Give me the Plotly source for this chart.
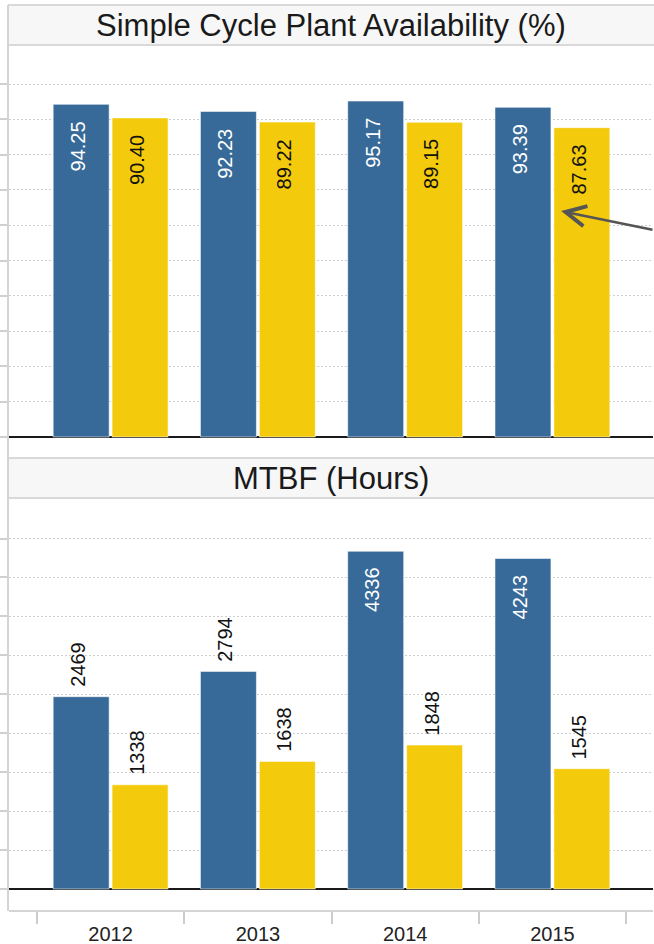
import plotly.graph_objects as go

years = ["2012", "2013", "2014", "2015"]
avail_plant = [94.25, 92.23, 95.17, 93.39]
avail_other = [90.40, 89.22, 89.15, 87.63]
mtbf_plant = [2469, 2794, 4336, 4243]
mtbf_other = [1338, 1638, 1848, 1545]

panel_titles = ["Simple Cycle Plant Availability (%)", "MTBF (Hours)"]

BLUE = "#376a98"
YELLOW = "#f3ca0c"
FONT = "Liberation Sans, Arial, sans-serif"

W, H = 654, 944
L, R, T, B = 9, 1, 45, 34
plot_h = H - T - B  # 865

def py(pix):  # pixel y -> paper y
    return (H - B - pix) / plot_h

x_idx = list(range(len(years)))
OFF, BW = 0.2, 0.38

fig = go.Figure()

panels = [
    (avail_plant, avail_other, "x", "y", lambda v: f"{v:.2f}", [-5.67, 111.05], list(range(0, 101, 10))),
    (mtbf_plant, mtbf_other, "x2", "y2", lambda v: f"{v:d}", [-269.6, 5020], list(range(0, 4501, 500))),
]

annotations = []
for pi, (s1, s2, xa, ya, fmt, yr, tv) in enumerate(panels):
    for vals, col, off, txtcol_in in [(s1, BLUE, -OFF, "white"), (s2, YELLOW, OFF, "#111111")]:
        xs = [i + off for i in x_idx]
        fig.add_trace(go.Bar(
            x=xs, y=vals, width=BW, marker=dict(color=col, line=dict(color="rgba(255,255,255,0.55)", width=1)),
            xaxis=xa, yaxis=ya, showlegend=False, hoverinfo="skip"))
        for xv, v in zip(xs, vals):
            inside = v / yr[1] > 0.7
            if inside:
                shift = -42 if pi == 0 else -38
                tc = txtcol_in
            else:
                shift = 32
                tc = "#111111"
            annotations.append(dict(
                x=xv, y=v, xref=xa, yref=ya, text=fmt(v), showarrow=False,
                textangle=-90, xanchor="center", yanchor="middle", yshift=shift, xshift=-3,
                font=dict(family=FONT, size=20, color=tc)))

# strip titles
strips = [(5, 45), (458, 498)]
shapes = []
for (top, bot), title in zip(strips, panel_titles):
    shapes.append(dict(type="rect", xref="paper", yref="paper", x0=-1 / 644, x1=1 + 1 / 644,
                       y0=py(bot), y1=py(top), fillcolor="#f7f7f7", line=dict(width=0), layer="below"))
    for yy in (top, bot):
        shapes.append(dict(type="line", xref="paper", yref="paper", x0=-1 / 644, x1=1 + 1 / 644,
                           y0=py(yy), y1=py(yy), line=dict(color="#d9d9d9", width=2)))
    annotations.append(dict(x=0.5, y=py((top + bot) / 2), xref="paper", yref="paper", text=title,
                            showarrow=False, xanchor="center", yanchor="middle",
                            font=dict(family=FONT, size=31, color="#1a1a1a")))

# left frame line
shapes.append(dict(type="line", xref="paper", yref="paper", x0=-1 / 644, x1=-1 / 644,
                   y0=py(911), y1=py(5), line=dict(color="#d4d4d4", width=2)))

# arrow annotation
annotations.append(dict(x=3.059, y=64.0, xref="x", yref="y", ax=100, ay=19, text="",
                        showarrow=True, arrowhead=5, arrowsize=1.6, arrowwidth=2.5, arrowcolor="#555555"))

xr = [-0.690, 3.683]
yaxis_common = dict(showticklabels=False, ticks="outside", ticklen=8, tickcolor="#d0d0d0", tickwidth=1.5,
                    showgrid=True, gridcolor="#cfcfcf", griddash="2px,2px", gridwidth=1, automargin=False,
                    zeroline=True, zerolinecolor="#1a1a1a", zerolinewidth=2, showline=False, tickmode="array")

fig.update_layout(
    width=W, height=H, margin=dict(l=L, r=R, t=T, b=B, autoexpand=False),
    paper_bgcolor="white", plot_bgcolor="white", barmode="overlay",
    font=dict(family=FONT),
    xaxis=dict(range=xr, domain=[0, 1], anchor="y", showticklabels=False, ticks="", showgrid=False,
               zeroline=False, showline=False, automargin=False),
    yaxis=dict(range=panels[0][5], domain=[py(457), 1], anchor="x", tickvals=panels[0][6], **yaxis_common),
    xaxis2=dict(range=xr, domain=[0, 1], anchor="y2", tickmode="array", tickvals=x_idx, ticktext=years,
                ticks="outside", ticklen=5, tickcolor="rgba(0,0,0,0)", showgrid=False, zeroline=False,
                showline=True, linecolor="#d4d4d4", linewidth=2, automargin=False,
                tickfont=dict(family=FONT, size=20, color="#222222"),
                minor=dict(tickmode="array", tickvals=[i - 0.5 for i in range(len(years) + 1)],
                           ticks="outside", ticklen=12, tickcolor="#cccccc", tickwidth=1.5, showgrid=False)),
    yaxis2=dict(range=panels[1][5], domain=[0, py(498)], anchor="x2", tickvals=panels[1][6], **yaxis_common),
    shapes=shapes, annotations=annotations,
)

fig.write_html("out.html", config={"displayModeBar": False},
               post_script="document.body.style.margin='0';document.body.style.overflow='hidden';")
